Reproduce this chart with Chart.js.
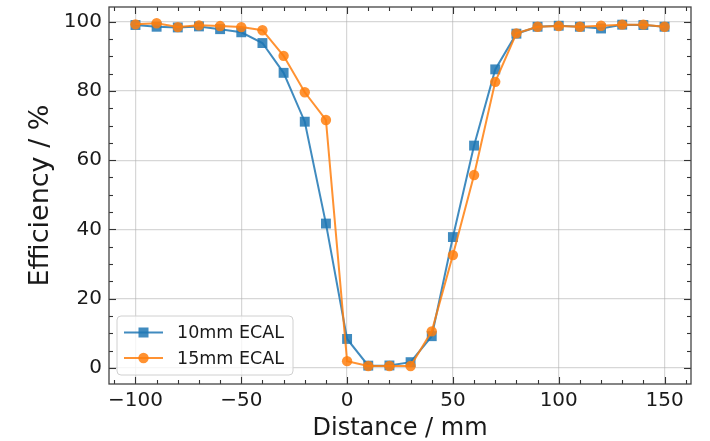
<!DOCTYPE html>
<html lang="en">
<head>
  <meta charset="UTF-8" />
  <title>Efficiency vs distance</title>
  <script src="https://cdn.jsdelivr.net/npm/chart.js"></script>
  <style>
    html, body { margin: 0; padding: 0; background: #fff; }
  </style>
</head>
<body>
  <canvas id="eff" width="710" height="441"></canvas>

  <script>
    // Data
    const distance = [-100, -90, -80, -70, -60, -50, -40, -30, -20, -10, 0, 10, 20, 30, 40, 50, 60, 70, 80, 90, 100, 110, 120, 130, 140, 150];
    const eff10 = [99.0, 98.5, 98.3, 98.6, 97.8, 96.9, 93.8, 85.2, 71.1, 41.7, 8.4, 0.7, 0.75, 1.7, 9.2, 37.8, 64.2, 86.2, 96.5, 98.5, 98.8, 98.5, 98.0, 99.1, 99.0, 98.5];
    const eff15 = [99.2, 99.5, 98.4, 98.9, 98.7, 98.4, 97.5, 90.1, 79.6, 71.6, 2.0, 0.6, 0.6, 0.6, 10.6, 32.6, 55.7, 82.6, 96.6, 98.5, 98.7, 98.5, 98.8, 99.1, 99.1, 98.5];

    const xTicks = [-100, -50, 0, 50, 100, 150];
    const xTickLabels = ['\u2212100', '\u221250', '0', '50', '100', '150'];
    const yTicks = [0, 20, 40, 60, 80, 100];
    const yTickLabels = ['0', '20', '40', '60', '80', '100'];

    const FONT = "'DejaVu Sans', sans-serif";
    const blue = 'rgba(31, 119, 180, 0.85)';
    const orange = 'rgba(255, 127, 14, 0.85)';

    // frame, inward ticks (major + minor on all sides) and a matplotlib-like legend
    const frameAndTicks = {
      id: 'frameAndTicks',
      afterDraw(chart) {
        const { ctx, chartArea: a, scales: { x, y } } = chart;
        ctx.save();
        ctx.strokeStyle = '#333';
        ctx.lineWidth = 1.1;
        const seg = (x1, y1, x2, y2) => { ctx.beginPath(); ctx.moveTo(x1, y1); ctx.lineTo(x2, y2); ctx.stroke(); };

        for (let v = -110; v <= 160; v += 10) {
          const px = Math.round(x.getPixelForValue(v)) + 0.5;
          if (px < a.left || px > a.right) continue;
          const len = xTicks.includes(v) ? 7 : 4;
          seg(px, a.bottom, px, a.bottom - len);
          seg(px, a.top, px, a.top + len);
        }
        for (let v = 0; v <= 100; v += 5) {
          const py = Math.round(y.getPixelForValue(v)) + 0.5;
          const len = yTicks.includes(v) ? 7 : 4;
          seg(a.left, py, a.left + len, py);
          seg(a.right, py, a.right - len, py);
        }
        ctx.strokeStyle = '#444';
        ctx.lineWidth = 1.3;
        ctx.strokeRect(a.left, a.top, a.right - a.left, a.bottom - a.top);

        // legend box, lower left
        const lx = a.left + 8, lw = 176, lh = 59, ly = a.bottom - 9 - lh;
        ctx.beginPath();
        ctx.roundRect(lx, ly, lw, lh, 4);
        ctx.fillStyle = 'rgba(255,255,255,0.8)';
        ctx.fill();
        ctx.strokeStyle = '#d0d0d0';
        ctx.lineWidth = 1;
        ctx.stroke();

        chart.data.datasets.forEach((ds, i) => {
          const ry = ly + 16.5 + i * 25.5;
          ctx.strokeStyle = ds.borderColor;
          ctx.lineWidth = 2;
          seg(lx + 7, ry, lx + 46, ry);
          ctx.fillStyle = ds.borderColor;
          const cx = lx + 26.5;
          if (ds.pointStyle === 'rect') {
            ctx.fillRect(cx - 5, ry - 5, 10, 10);
          } else {
            ctx.beginPath();
            ctx.arc(cx, ry, 5.2, 0, Math.PI * 2);
            ctx.fill();
          }
          ctx.fillStyle = '#1a1a1a';
          ctx.font = '17.5px ' + FONT;
          ctx.textBaseline = 'middle';
          ctx.textAlign = 'left';
          ctx.fillText(ds.label, lx + 60, ry + 1);
        });
        ctx.restore();
      }
    };

    new Chart(document.getElementById('eff'), {
      type: 'line',
      data: {
        datasets: [
          {
            label: '10mm ECAL',
            data: distance.map((d, i) => ({ x: d, y: eff10[i] })),
            borderColor: blue,
            backgroundColor: blue,
            borderWidth: 2,
            pointStyle: 'rect',
            pointRadius: 7,
            pointBorderWidth: 0,
            tension: 0,
            order: 1
          },
          {
            label: '15mm ECAL',
            data: distance.map((d, i) => ({ x: d, y: eff15[i] })),
            borderColor: orange,
            backgroundColor: orange,
            borderWidth: 2,
            pointStyle: 'circle',
            pointRadius: 5.2,
            pointBorderWidth: 0,
            tension: 0,
            order: 0
          }
        ]
      },
      options: {
        responsive: false,
        animation: false,
        layout: { padding: { left: 0, right: 19, top: 7, bottom: 0 } },
        plugins: { legend: { display: false }, tooltip: { enabled: false } },
        scales: {
          x: {
            type: 'linear',
            min: -112.5,
            max: 162.5,
            afterFit: s => { s.height = 57; s.paddingLeft = 0; s.paddingRight = 0; },
            afterBuildTicks: s => { s.ticks = xTicks.map(v => ({ value: v })); },
            grid: { color: 'rgba(176,176,176,0.5)', lineWidth: 1.2, drawTicks: false },
            border: { display: false },
            ticks: {
              padding: 5,
              color: '#1a1a1a',
              font: { family: FONT, size: 20 },
              maxRotation: 0,
              callback: v => xTickLabels[xTicks.indexOf(v)]
            },
            title: {
              display: true,
              text: 'Distance / mm',
              color: '#1a1a1a',
              font: { family: FONT, size: 24 },
              padding: { top: 0, bottom: -2 }
            }
          },
          y: {
            min: -4.6,
            max: 104.2,
            afterFit: s => { s.width = 109; s.paddingTop = 0; s.paddingBottom = 0; },
            afterBuildTicks: s => { s.ticks = yTicks.map(v => ({ value: v })); },
            grid: { color: 'rgba(176,176,176,0.5)', lineWidth: 1.2, drawTicks: false },
            border: { display: false },
            ticks: {
              padding: 7,
              color: '#1a1a1a',
              font: { family: FONT, size: 20 },
              callback: v => yTickLabels[yTicks.indexOf(v)]
            },
            title: {
              display: true,
              text: 'Efficiency / %',
              color: '#1a1a1a',
              font: { family: FONT, size: 27 },
              padding: { top: 25, bottom: 0 }
            }
          }
        }
      },
      plugins: [frameAndTicks]
    });
  </script>
</body>
</html>
